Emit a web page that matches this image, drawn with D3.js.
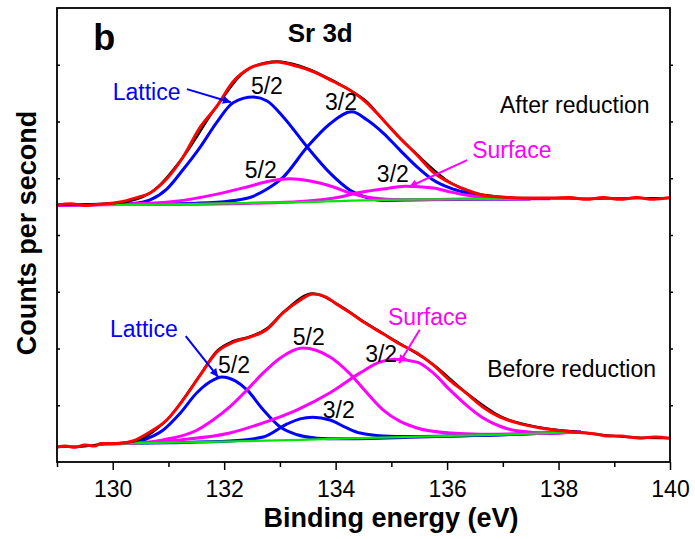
<!DOCTYPE html>
<html>
<head>
<meta charset="utf-8">
<script src="https://cdn.jsdelivr.net/npm/d3@7"></script>
<style>
  body { margin: 0; background: #fff; }
  text { font-family: "Liberation Sans", Arial, sans-serif; }
</style>
</head>
<body>
<svg id="chart" width="695" height="539"></svg>
<script>
'use strict';

// binding energy (eV) vs counts (arb. units)
// ---- after reduction (upper spectrum) ----
var upperData = [[129.0,453],[129.5,454],[130.13,457],[130.67,474],[131.26,537],[131.87,627],[132.46,694],[132.95,706],[133.36,698],[133.67,686],[134.26,655],[134.56,635],[134.85,603],[135.46,542],[136.05,493],[136.64,471],[137.4,465],[138.5,464],[139.5,465],[140.0,465]];
var upperFit = [[129.0,453],[129.25,455],[129.5,452],[129.75,454],[130.13,458],[130.4,465],[130.67,474],[130.97,499],[131.26,537],[131.57,590],[131.87,627],[132.16,670],[132.46,694],[132.77,703],[132.95,705],[133.18,701],[133.36,696],[133.67,685],[133.95,671],[134.26,655],[134.56,633],[134.85,603],[135.15,571],[135.46,541],[135.75,511],[136.05,492],[136.36,479],[136.64,470],[136.95,467],[137.4,465],[137.85,465],[138.2,466],[138.5,463],[138.8,466],[139.1,463],[139.4,466],[139.7,463],[140.0,466]];
var upperLattice52 = [[129.0,453],[130.0,454],[130.4,456],[130.67,462],[130.97,481],[131.26,515],[131.57,555],[131.87,599],[132.16,633],[132.52,643],[132.77,636],[133.06,608],[133.49,555],[133.9,509],[134.26,479],[134.56,466],[134.85,461],[135.5,462],[136.5,463],[137.5,464]];
var upperLattice32 = [[129.0,453],[130.5,454],[131.5,456],[132.1,460],[132.46,466],[132.77,481],[133.06,502],[133.49,555],[133.9,596],[134.29,617],[134.56,603],[134.85,580],[135.15,550],[135.46,520],[135.75,497],[136.05,483],[136.36,474],[136.64,467],[136.95,464],[137.5,464]];
var upperSurface52 = [[129.0,453],[130.67,456],[131.26,461],[131.87,472],[132.46,486],[132.82,495],[133.18,499],[133.54,495],[133.95,485],[134.26,474],[134.67,465],[135.15,462],[136.05,463],[137.5,464]];
var upperSurface32 = [[129.0,453],[131.0,454],[132.5,456],[133.36,459],[134.08,467],[134.38,474],[134.85,481],[135.25,486],[135.75,483],[136.05,476],[136.36,470],[136.64,467],[137.12,464],[137.85,464]];
var upperBackground = [[129.0,453],[130.3,453],[131.6,455],[133.4,458],[134.85,462],[136.05,463],[137.5,464]];

// ---- before reduction (lower spectrum) ----
var lowerData = [[129.0,27],[129.4,27],[129.77,31],[130.36,36],[130.97,74],[131.57,154],[131.87,196],[132.16,213],[132.46,221],[132.77,236],[133.06,264],[133.59,297],[134.02,279],[134.56,244],[135.15,209],[135.75,172],[136.36,121],[136.95,81],[137.67,61],[138.26,54],[138.87,47],[139.46,43],[140.0,42]];
var lowerFit = [[129.0,26],[129.15,28],[129.32,26],[129.5,30],[129.68,28],[129.77,32],[130.13,33],[130.36,37],[130.67,53],[130.97,74],[131.26,109],[131.57,153],[131.87,194],[132.16,211],[132.46,220],[132.77,234],[133.06,263],[133.36,285],[133.59,296],[133.8,292],[134.02,278],[134.26,263],[134.56,243],[134.85,226],[135.15,208],[135.46,192],[135.75,171],[136.05,144],[136.36,120],[136.64,97],[136.95,79],[137.25,69],[137.67,60],[138.26,53],[138.69,49],[138.87,46],[139.1,46],[139.46,42],[139.73,44],[140.0,42]];
var lowerLattice52 = [[129.77,32],[130.3,33],[130.61,41],[130.9,56],[131.21,86],[131.51,122],[131.74,141],[131.96,150],[132.2,143],[132.41,127],[132.7,92],[133.0,62],[133.31,48],[133.67,42],[134.08,41],[135.5,44],[137.0,48],[138.4,53]];
var lowerLattice32 = [[129.77,32],[131.0,34],[132.1,37],[132.7,44],[133.13,67],[133.36,76],[133.59,79],[133.9,74],[134.2,60],[134.44,51],[134.85,46],[135.33,45],[137.0,48],[138.4,53]];
var lowerSurface52 = [[129.77,32],[130.3,33],[130.9,39],[131.51,56],[131.8,74],[132.1,97],[132.41,127],[132.7,157],[133.0,183],[133.41,201],[133.9,185],[134.26,155],[134.56,122],[134.85,92],[135.15,72],[135.46,60],[136.05,51],[136.59,49],[137.5,50],[138.4,53]];
var lowerSurface32 = [[129.77,32],[130.3,33],[131.21,39],[132.1,51],[132.7,69],[133.31,92],[133.9,122],[134.44,157],[134.79,176],[135.06,181],[135.46,176],[135.75,157],[136.05,127],[136.36,99],[136.64,78],[136.95,63],[137.25,55],[137.85,51],[138.4,53]];
var lowerBackground = [[129.77,32],[131.57,35],[133.36,39],[135.15,44],[136.95,48],[138.4,53]];

var majorTicks = [130, 132, 134, 136, 138, 140];
var minorTicks = [129, 131, 133, 135, 137, 139];
var countTicks = [100, 200, 300, 400, 500, 600, 700];

var labelText = ['Lattice', '5/2', '3/2', '5/2', '3/2', 'After reduction', 'Surface',
                 'Lattice', '5/2', '5/2', '3/2', 'Surface', '3/2', 'Before reduction'];
var labelEnergy = [130.00, 132.48, 133.81, 132.37, 134.74, 136.95, 136.45,
                   129.95, 131.89, 133.23, 133.77, 134.94, 134.53, 136.72];
var labelCounts = [638, 648, 620, 500, 493, 615, 536,
                   220, 157, 206, 78, 241, 176, 150];

var blue = '#0000ff', magenta = '#ff00ff', red = '#ff0000', green = '#00e600';
var labelColor = [blue, '#000', '#000', '#000', '#000', '#000', magenta,
                  blue, '#000', '#000', '#000', magenta, '#000', '#000'];

// arrows: [fromEnergy, fromCounts, toEnergy, toCounts]
var arrows = [[131.33, 657, 132.12, 634], [136.36, 532, 135.32, 485],
              [131.31, 222, 131.89, 150], [135.51, 233, 135.14, 174]];
var arrowColor = [blue, magenta, blue, magenta];

var margin = { top: 8, right: 25, bottom: 77, left: 57 };
var width = 695 - margin.left - margin.right;
var height = 539 - margin.top - margin.bottom;

var svg = d3.select('#chart');
var g = svg.append('g').attr('transform', 'translate(' + margin.left + ',' + margin.top + ')');

var x = d3.scaleLinear().domain([129, 140]).range([0, width]);
var y = d3.scaleLinear().domain([0, 800]).range([height, 0]);

var line = d3.line()
  .x(function(d) { return x(d[0]); })
  .y(function(d) { return y(d[1]); })
  .curve(d3.curveMonotoneX);

// arrow heads
var defs = svg.append('defs');
[['head-blue', blue], ['head-magenta', magenta]].forEach(function(m) {
  defs.append('marker')
    .attr('id', m[0])
    .attr('viewBox', '0 0 10 10')
    .attr('refX', 10).attr('refY', 5)
    .attr('markerWidth', 11).attr('markerHeight', 8)
    .attr('markerUnits', 'userSpaceOnUse')
    .attr('orient', 'auto')
    .append('path')
    .attr('d', 'M0,0 L10,5 L0,10 Z')
    .attr('fill', m[1]);
});

// curves
var curves = [
  [upperLattice52, blue, 3], [upperLattice32, blue, 3],
  [upperSurface52, magenta, 3], [upperSurface32, magenta, 3],
  [upperBackground, green, 2.2],
  [lowerLattice52, blue, 3], [lowerLattice32, blue, 3],
  [lowerSurface52, magenta, 3], [lowerSurface32, magenta, 3],
  [lowerBackground, green, 2.2],
  [upperData, '#000', 2.2], [lowerData, '#000', 2.2],
  [upperFit, red, 3], [lowerFit, red, 3]
];

g.selectAll('path.curve')
  .data(curves)
  .enter()
  .append('path')
  .attr('class', 'curve')
  .attr('d', function(d) { return line(d[0]); })
  .attr('fill', 'none')
  .attr('stroke', function(d) { return d[1]; })
  .attr('stroke-width', function(d) { return d[2]; })
  .attr('stroke-linejoin', 'round');

// axes
var xMajor = g.append('g')
  .attr('transform', 'translate(0,' + height + ')')
  .call(d3.axisBottom(x).tickValues(majorTicks).tickSize(8).tickFormat(d3.format('d')));
xMajor.selectAll('text')
  .attr('y', 35).attr('dy', 0)
  .attr('font-size', '23px')
  .attr('fill', '#000');

g.append('g')
  .attr('transform', 'translate(0,' + height + ')')
  .call(d3.axisBottom(x).tickValues(minorTicks).tickSize(5).tickFormat(''));

g.append('g')
  .call(d3.axisLeft(y).tickValues(countTicks).tickSize(-3).tickFormat(''));

g.append('g')
  .attr('transform', 'translate(' + width + ',0)')
  .call(d3.axisRight(y).tickValues(countTicks).tickSize(3).tickFormat(''));

g.selectAll('.domain').remove();
g.selectAll('.tick line').attr('stroke', '#000').attr('stroke-width', 1.5);

g.append('rect')
  .attr('width', width)
  .attr('height', height)
  .attr('fill', 'none')
  .attr('stroke', '#000')
  .attr('stroke-width', 1.8);

// arrows
g.selectAll('line.arrow')
  .data(arrows)
  .enter()
  .append('line')
  .attr('class', 'arrow')
  .attr('x1', function(d) { return x(d[0]); })
  .attr('y1', function(d) { return y(d[1]); })
  .attr('x2', function(d) { return x(d[2]); })
  .attr('y2', function(d) { return y(d[3]); })
  .attr('stroke', function(d, i) { return arrowColor[i]; })
  .attr('stroke-width', 2)
  .attr('marker-end', function(d, i) {
    return arrowColor[i] === blue ? 'url(#head-blue)' : 'url(#head-magenta)';
  });

// peak labels
g.selectAll('text.note')
  .data(labelText)
  .enter()
  .append('text')
  .attr('class', 'note')
  .attr('x', function(d, i) { return x(labelEnergy[i]); })
  .attr('y', function(d, i) { return y(labelCounts[i]); })
  .attr('font-size', '23px')
  .attr('fill', function(d, i) { return labelColor[i]; })
  .text(function(d) { return d; });

// panel letter and title
g.append('text')
  .attr('x', x(129.65)).attr('y', y(726))
  .attr('font-size', '36px').attr('font-weight', 'bold')
  .text('b');

g.append('text')
  .attr('x', x(133.14)).attr('y', y(740))
  .attr('font-size', '26px').attr('font-weight', 'bold')
  .text('Sr 3d');

// axis titles
svg.append('text')
  .attr('x', 391)
  .attr('y', 527)
  .attr('text-anchor', 'middle')
  .attr('font-size', '27px').attr('font-weight', 'bold')
  .text('Binding energy (eV)');

svg.append('text')
  .attr('transform', 'translate(36,233) rotate(-90)')
  .attr('text-anchor', 'middle')
  .attr('font-size', '27px').attr('font-weight', 'bold')
  .text('Counts per second');
</script>
</body>
</html>
